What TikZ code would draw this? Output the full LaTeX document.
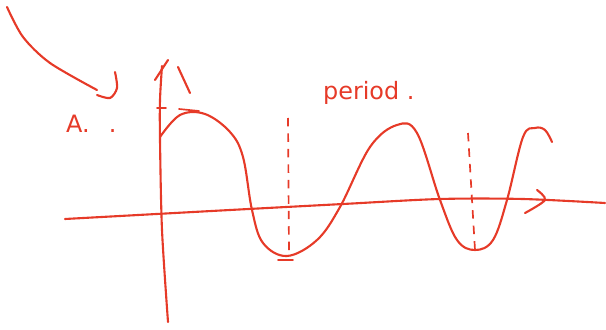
\documentclass[tikz,border=0pt]{standalone}
\usepackage{fontspec}
\setmainfont{DejaVu Sans}
\usetikzlibrary{positioning,calc}
\definecolor{tinta}{HTML}{E63A28}
\tikzset{
  traco/.style={draw=tinta,line width=3pt,line cap=round,line join=round},
  tracofino/.style={draw=tinta,line width=2.4pt,line cap=round},
  tracejado/.style={draw=tinta,line width=2.4pt,dash pattern=on 12pt off 10pt},
  nota/.style={text=tinta,font=\fontsize{34}{40}\selectfont,inner sep=0pt,anchor=base west},
}
\begin{document}
\begin{tikzpicture}[x=0.5mm,y=-0.5mm]
  \useasboundingbox (0,0) rectangle (606,330);
  % seta solta no canto
  \draw[traco] plot[smooth] coordinates {(7,7) (23,37) (50,63) (97,90)};
  \draw[traco] plot[smooth] coordinates {(115,72) (117,88) (110,98) (97,95)};
  % eixo vertical
  \draw[traco] plot[smooth] coordinates {(168,322) (162,230) (160,140) (160,100) (162,66)};
  \draw[traco] (155,80) -- (168,60);
  \draw[traco] (178,67) -- (190,93);
  \draw[tracofino] (157,108) -- (166,108);
  \draw[tracofino] (179,109) -- (199,111);
  % eixo horizontal
  \draw[traco] plot[smooth] coordinates {(65,219) (230,210) (343,204) (440,199) (523,199) (605,203)};
  \draw[traco] plot[smooth] coordinates {(537,190) (545,200) (525,213)};
  % onda
  \draw[traco] plot[smooth,tension=0.6] coordinates {
    (160,137) (180,115) (205,114) (230,132) (243,157) (252,210) (263,243)
    (287,256) (317,240) (340,207) (370,147) (397,125) (417,133) (440,200)
    (457,240) (475,250) (493,240) (507,200) (523,137) (535,128) (545,130) (552,142)};
  \draw[tracofino] (278,260) -- (293,260);
  % periodo
  \draw[tracejado] (288,118) -- (289,252);
  \draw[tracejado] (468,133) -- (475,250);
  \node[nota] (amp) at (66,133) {A.\hspace{0.8em}.};
  \node[nota] (periodo) at (323,100) {period .};
\end{tikzpicture}
\end{document}
